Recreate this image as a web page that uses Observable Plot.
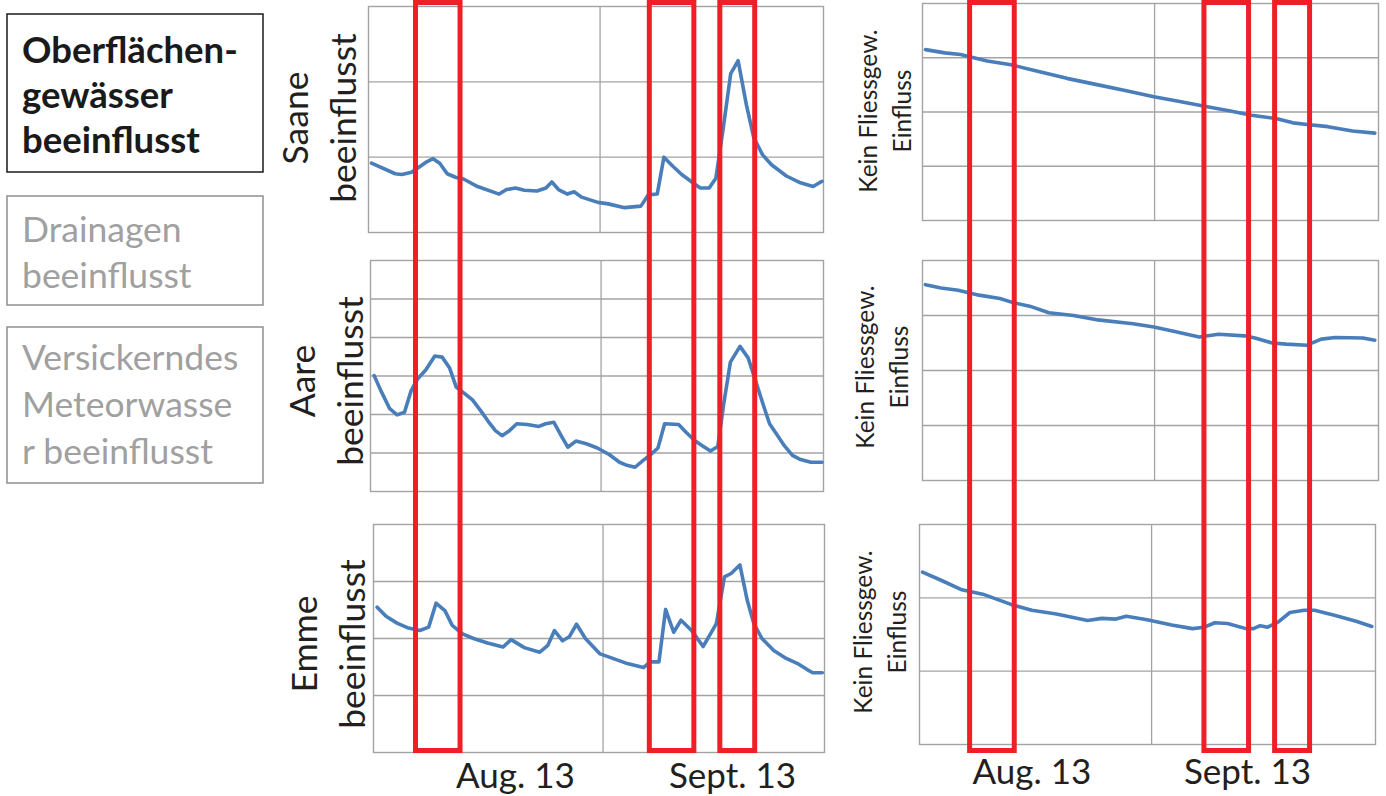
<!DOCTYPE html>
<html>
<head>
<meta charset="utf-8">
<script src="https://cdn.jsdelivr.net/npm/d3@7"></script>
<script src="https://cdn.jsdelivr.net/npm/@observablehq/plot@0.6"></script>
<style>
  html, body { margin: 0; padding: 0; background: #fff; }
  #root { position: relative; width: 1386px; height: 796px; overflow: hidden; background: #fff; font-family: Lato, "Open Sans", sans-serif; }
  #root svg { position: absolute; }
</style>
</head>
<body>
<div id="root"></div>
<script>
// ---------------- DATA (x = days since start, y = grid units) -------------
const legendActive = ["Oberflächen-", "gewässer", "beeinflusst"];
const legendDrain = ["Drainagen", "beeinflusst"];
const legendSeep = ["Versickerndes", "Meteorwasse", "r beeinflusst"];

const leftLabels = [["Saane", "beeinflusst"], ["Aare", "beeinflusst"], ["Emme", "beeinflusst"]];
const rightLabel = ["Kein Fliessgew.", "Einfluss"];

const xTickLabels = ["Aug. 13", "Sept. 13"];
const leftTickDays = [19.3, 48.8];
const rightTickDays = [15.1, 44.1];

const xDomain = [0, 61.3];
const monthGridDay = [31.2];

// event windows (red frames), in days
const eventStart = [6.4, 37.9, 47.4];
const eventEnd = [12.4, 43.9, 52.1];

const saaneDay = [0.4,3.6,4.5,5.8,6.7,7.7,8.7,9.6,10.6,11.8,12.8,14.7,17.6,18.6,19.8,21.0,22.7,23.9,24.7,25.6,26.8,27.7,28.7,30.9,32.3,34.5,36.7,37.7,38.9,39.8,41.0,42.2,43.7,44.7,45.9,46.8,47.8,48.8,49.8,50.9,51.9,53.1,54.3,56.3,58.2,59.9,61.1];
const saaneVal = [0.92,0.78,0.77,0.80,0.86,0.93,0.98,0.92,0.78,0.73,0.71,0.61,0.51,0.57,0.59,0.56,0.55,0.59,0.67,0.57,0.51,0.54,0.47,0.40,0.38,0.33,0.35,0.50,0.51,1.00,0.88,0.77,0.66,0.59,0.59,0.72,1.39,2.11,2.28,1.70,1.26,1.03,0.90,0.75,0.66,0.61,0.68];

const aareDay = [0.5,1.4,2.6,3.6,4.6,5.5,6.4,7.5,8.7,9.7,10.7,11.6,12.7,13.8,14.9,15.9,16.9,17.8,18.8,19.8,21.2,22.8,23.7,24.8,25.8,26.7,27.8,29.2,30.7,32.3,33.7,34.7,35.8,36.9,37.8,38.9,39.8,41.7,42.7,43.9,44.9,46.0,47.0,47.8,48.7,50.0,51.1,52.1,53.1,54.0,55.1,56.0,57.1,58.2,59.6,61.1];
const aareVal = [3.01,2.62,2.15,1.99,2.06,2.62,2.93,3.16,3.52,3.49,3.21,2.71,2.55,2.38,2.10,1.83,1.58,1.45,1.58,1.76,1.74,1.69,1.76,1.80,1.45,1.15,1.31,1.24,1.13,0.96,0.76,0.68,0.63,0.81,0.94,1.13,1.76,1.74,1.54,1.32,1.19,1.05,1.17,2.28,3.36,3.77,3.47,2.88,2.28,1.76,1.45,1.19,0.94,0.83,0.76,0.76];

const emmeDay = [0.5,1.7,3.2,4.6,6.3,7.5,8.5,9.7,10.7,12.1,13.6,15.5,17.6,18.7,20.5,22.6,23.7,24.6,25.7,26.6,27.6,28.8,30.8,33.0,34.5,36.7,37.6,38.8,39.7,40.8,41.8,43.3,44.8,45.7,46.6,47.7,48.6,49.8,50.8,51.7,52.8,54.4,56.1,57.8,59.0,59.7,61.0];
const emmeVal = [2.55,2.39,2.27,2.19,2.14,2.20,2.62,2.49,2.23,2.08,2.00,1.92,1.85,1.98,1.84,1.76,1.88,2.14,1.96,2.03,2.25,2.00,1.73,1.63,1.56,1.49,1.59,1.59,2.51,2.11,2.32,2.13,1.86,2.06,2.26,3.08,3.14,3.29,2.67,2.26,2.00,1.79,1.65,1.55,1.45,1.40,1.40];

const ref1Day = [0.4,3.0,5.1,8.7,11.9,15.2,19.4,23.6,27.4,31.1,34.4,38.1,41.4,44.2,47.5,49.8,51.7,54.5,57.8,60.8];
const ref1Val = [3.15,3.09,3.06,2.94,2.87,2.76,2.62,2.50,2.39,2.28,2.20,2.10,2.02,1.94,1.88,1.80,1.77,1.73,1.65,1.61];

const ref2Day = [0.4,2.5,4.8,7.6,10.4,12.3,14.4,17.0,20.3,23.6,28.3,31.1,33.9,37.2,39.8,43.3,44.7,47.0,48.9,51.7,53.6,55.5,59.2,60.8];
const ref2Val = [3.56,3.50,3.46,3.37,3.31,3.23,3.17,3.05,3.00,2.92,2.85,2.79,2.71,2.61,2.66,2.63,2.59,2.50,2.48,2.46,2.57,2.60,2.59,2.55];

const ref3Day = [0.4,2.9,5.7,8.5,12.3,15.1,18.4,22.6,24.5,26.4,27.8,30.6,33.9,36.7,38.3,39.7,41.4,43.9,44.9,45.8,46.8,48.2,49.8,51.7,53.1,55.9,58.7,60.8];
const ref3Val = [2.35,2.24,2.11,2.05,1.91,1.83,1.78,1.69,1.72,1.71,1.75,1.70,1.63,1.58,1.60,1.66,1.65,1.58,1.58,1.62,1.60,1.67,1.80,1.83,1.83,1.76,1.68,1.61];

// ---------------- LAYOUT / STYLE ----------------
const W = 1386, H = 796;
const gridColor = "#a3a3a3";
const lineColor = "#4a7ebb";
const red = "#ee1f26";
const textColor = "#231f20";
const font = "Lato, 'Open Sans', sans-serif";

const root = document.getElementById("root");

function panel(box, ny, days, vals, ticks, tickPad) {
  const m = 3;
  const mb = ticks ? 62 : 3;
  const data = days.map((d, i) => ({d, v: vals[i]}));
  const marks = [
    Plot.ruleY(d3.range(1, ny), {stroke: gridColor, strokeWidth: 1.3}),
    Plot.ruleX(monthGridDay, {stroke: gridColor, strokeWidth: 1.3}),
    Plot.frame({stroke: gridColor, strokeWidth: 1.4}),
    Plot.line(data, {x: "d", y: "v", stroke: lineColor, strokeWidth: 3.6, strokeLinejoin: "round", strokeLinecap: "round"})
  ];
  if (ticks) {
    marks.push(Plot.axisX(ticks, {
      tickSize: 0, tickPadding: tickPad, fontSize: 35, label: null,
      tickFormat: d => xTickLabels[ticks.indexOf(d)], fill: textColor
    }));
  }
  const svg = Plot.plot({
    width: box.x1 - box.x0 + 2 * m,
    height: box.y1 - box.y0 + m + mb,
    marginLeft: m, marginRight: m, marginTop: m, marginBottom: mb,
    x: ticks ? {domain: xDomain, label: null} : {domain: xDomain, axis: null},
    y: {domain: [0, ny], axis: null},
    style: {fontFamily: font, color: textColor, background: "transparent", overflow: "visible"},
    marks
  });
  svg.style.left = (box.x0 - m) + "px";
  svg.style.top = (box.y0 - m) + "px";
  root.appendChild(svg);
}

panel({x0: 368, x1: 823, y0: 6, y1: 232}, 3, saaneDay, saaneVal);
panel({x0: 370, x1: 823, y0: 260, y1: 491}, 6, aareDay, aareVal);
panel({x0: 373, x1: 824, y0: 524, y1: 752}, 4, emmeDay, emmeVal, leftTickDays, 11);
panel({x0: 922, x1: 1378, y0: 3, y1: 220}, 4, ref1Day, ref1Val);
panel({x0: 922, x1: 1378, y0: 260, y1: 480}, 4, ref2Day, ref2Val);
panel({x0: 919, x1: 1375, y0: 524, y1: 744}, 3, ref3Day, ref3Val, rightTickDays, 15);

// red event frames, one overlay per column sharing the column's x scale
function events(x0, x1) {
  const rows = eventStart.map((s, i) => ({s, e: eventEnd[i]}));
  const svg = Plot.plot({
    width: W, height: H,
    marginLeft: x0, marginRight: W - x1, marginTop: 2.5, marginBottom: H - 750.5,
    x: {domain: xDomain, axis: null},
    y: {domain: [0, 1], axis: null},
    style: {background: "transparent", overflow: "visible"},
    marks: [
      Plot.rect(rows, {x1: "s", x2: "e", y1: () => 0, y2: () => 1, fill: "none", stroke: red, strokeWidth: 5})
    ]
  });
  svg.style.left = "0px";
  svg.style.top = "0px";
  svg.style.pointerEvents = "none";
  root.appendChild(svg);
}
events(368, 823);
events(922, 1378);

// legend boxes and rotated panel labels
const deco = d3.select(root).append("svg")
  .attr("width", W).attr("height", H)
  .style("left", "0px").style("top", "0px")
  .style("font-family", font);

function legendBox(y0, y1, lines, baselines, bold) {
  deco.append("rect").attr("x", 7).attr("y", y0).attr("width", 256).attr("height", y1 - y0)
    .attr("fill", "none").attr("stroke", bold ? "#1a1a1a" : "#8f8f8f").attr("stroke-width", 1.5);
  lines.forEach((t, i) => {
    deco.append("text").attr("x", 22).attr("y", baselines[i]).text(t)
      .attr("font-size", bold ? 36.5 : 35.5).attr("font-weight", bold ? 700 : 400)
      .attr("fill", bold ? "#1a1a1a" : "#a0a0a0");
  });
}
legendBox(14, 172, legendActive, [63, 108, 153], true);
legendBox(196, 305, legendDrain, [242, 288], false);
legendBox(327, 483, legendSeep, [370, 417, 464], false);

function vlabel(lines, xs, y, size) {
  lines.forEach((t, i) => {
    deco.append("text").attr("transform", `translate(${xs[i]},${y}) rotate(-90)`)
      .attr("text-anchor", "middle").attr("font-size", size).attr("fill", textColor).text(t);
  });
}
vlabel(leftLabels[0], [308, 356], 118, 35.5);
vlabel(leftLabels[1], [315, 363], 381, 35.5);
vlabel(leftLabels[2], [317, 365], 644, 35.5);
vlabel(rightLabel, [877, 911], 111, 24.5);
vlabel(rightLabel, [874, 908], 367, 24.5);
vlabel(rightLabel, [872, 906], 632, 24.5);
</script>
</body>
</html>
